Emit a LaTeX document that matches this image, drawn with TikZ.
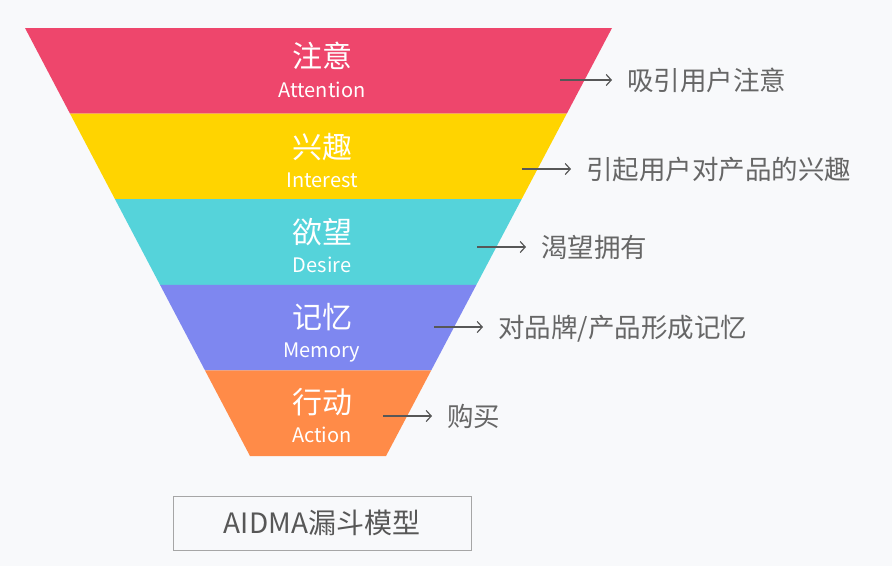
\documentclass[tikz,border=0pt]{standalone}
\usepackage{fontspec}
\setmainfont{Noto Sans CJK SC}
\usepackage{xcolor}
\usetikzlibrary{arrows.meta,positioning,calc}
\definecolor{fred}{HTML}{EE466C}
\definecolor{fyellow}{HTML}{FFD400}
\definecolor{fcyan}{HTML}{55D3DA}
\definecolor{fpurple}{HTML}{7E87F0}
\definecolor{forange}{HTML}{FF8B48}
\definecolor{bggray}{HTML}{F8F9FB}
\definecolor{txtgray}{HTML}{666666}
\tikzset{
  >={Straight Barb[length=5pt,width=11pt]},
  title/.style={text=white, font=\fontsize{30}{30}\selectfont, inner sep=0pt, text height=26.4pt, text depth=3.6pt},
  sub/.style={text=white, font=\fontsize{20}{20}\selectfont, inner sep=0pt, text height=14.4pt, text depth=0pt},
  note/.style={text=txtgray, font=\fontsize{26.5}{26.5}\selectfont, anchor=west, inner sep=0pt, text height=23.3pt, text depth=3.2pt},
  arr/.style={->, draw=txtgray!85!black, line width=1.2pt, shorten >=15pt},
  caption/.style={draw=gray!70, line width=1pt, fill=bggray, minimum width=298pt, minimum height=54pt, text=txtgray!85!black, font=\fontsize{28}{28}\selectfont},
}
\begin{document}
\begin{tikzpicture}[x=1pt, y=-1pt]
  \fill[bggray] (0,0) rectangle (892,566);
  \useasboundingbox (0,0) rectangle (892,566);

  % funnel corners
  \coordinate (TL) at (25,28);
  \coordinate (TR) at (612,28);
  \coordinate (BL) at (250,456);
  \coordinate (BR) at (386,456);

  \foreach \col/\a/\b in {fred/0/0.2, fyellow/0.2/0.4, fcyan/0.4/0.6, fpurple/0.6/0.8, forange/0.8/1}{
    \fill[\col] ($(TL)!\a!(BL)$) -- ($(TR)!\a!(BR)$) -- ($(TR)!\b!(BR)$) -- ($(TL)!\b!(BL)$) -- cycle;
  }

  \node[title] (t1) at (322,56) {注意};
  \node[sub] (e1) at (322,90) {Attention};
  \node[title] (t2) at (322,147) {兴趣};
  \node[sub] (e2) at (322,180) {Interest};
  \node[title] (t3) at (322,232) {欲望};
  \node[sub] (e3) at (322,265) {Desire};
  \node[title] (t4) at (322,317) {记忆};
  \node[sub] (e4) at (322,350) {Memory};
  \node[title] (t5) at (322,402) {行动};
  \node[sub] (e5) at (322,435) {Action};

  \coordinate (s1) at (560,80);
  \coordinate (s2) at (522,169);
  \coordinate (s3) at (477,247);
  \coordinate (s4) at (434,327);
  \coordinate (s5) at (383,416);

  \node[note] (n1) at (627,80) {吸引用户注意};
  \node[note] (n2) at (586,169) {引起用户对产品的兴趣};
  \node[note] (n3) at (541,247) {渴望拥有};
  \node[note] (n4) at (498,327) {对品牌/产品形成记忆};
  \node[note] (n5) at (447,416) {购买};

  \foreach \i in {1,...,5}{
    \draw[arr] (s\i) -- (n\i.west);
  }

  \node[caption] (box) at (322,523) {AIDMA漏斗模型};
\end{tikzpicture}
\end{document}
